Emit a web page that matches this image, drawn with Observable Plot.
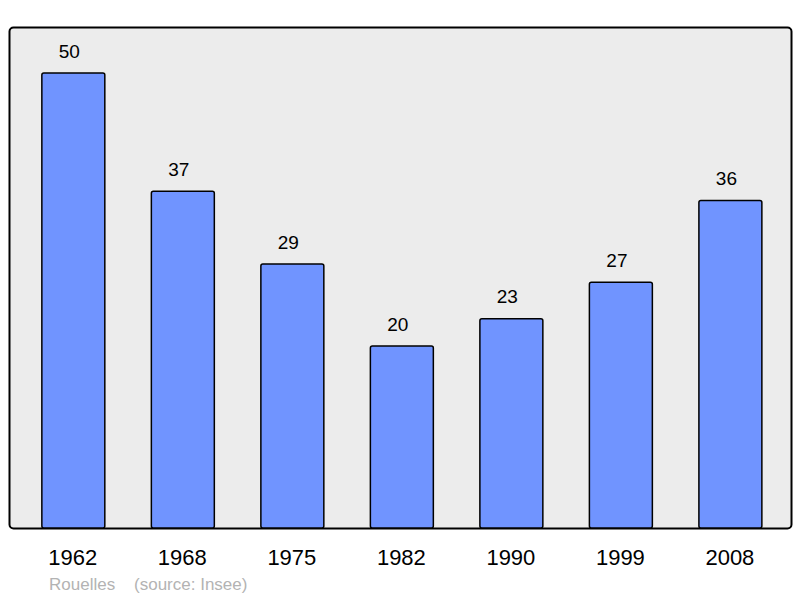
<!DOCTYPE html>
<html><head><meta charset="utf-8">
<script src="https://cdn.jsdelivr.net/npm/d3@7"></script>
<script src="https://cdn.jsdelivr.net/npm/@observablehq/plot@0.6"></script>
<style>
html,body{margin:0;padding:0;background:#fff;}
#cap{font-family:"Liberation Sans",Arial,sans-serif;font-size:17px;color:#b3b3b3;height:26px;line-height:26px;padding-left:49px;white-space:pre;}
</style>
</head><body>
<div id="chart"></div>
<div id="cap">Rouelles    (source: Insee)</div>
<script>
const years = ["1962","1968","1975","1982","1990","1999","2008"];
const population = [50, 37, 29, 20, 23, 27, 36];
const data = years.map((y,i)=>({year:y, pop:population[i]}));
const chart = Plot.plot({
  width: 800, height: 572,
  marginTop: 27, marginBottom: 44, marginLeft: 9, marginRight: 9,
  style: {fontFamily: "Liberation Sans, Arial, sans-serif", background: "white"},
  x: {domain: years, paddingInner: 0.425, paddingOuter: 0.283, align: 0.53, round: false, label: null, tickSize: 0, tickPadding: 22},
  y: {domain: [0, 50], range: [528, 73], axis: null},
  marks: [
    Plot.frame({fill: "#ececec", stroke: "black", strokeWidth: 2, rx: 4}),
    Plot.barY(data, {x: "year", y: "pop", fill: "#7094ff", stroke: "black", strokeWidth: 1.5, rx: 2}),
    Plot.text(data, {x: "year", y: "pop", text: d => String(d.pop), dy: -22, dx: -4.5, fontSize: 19, fill: "black"}),
    Plot.axisX({tickSize: 0, tickPadding: 21, fontSize: 22, dx: -1, label: null})
  ]
});
document.getElementById("chart").appendChild(chart);
</script>
</body></html>
